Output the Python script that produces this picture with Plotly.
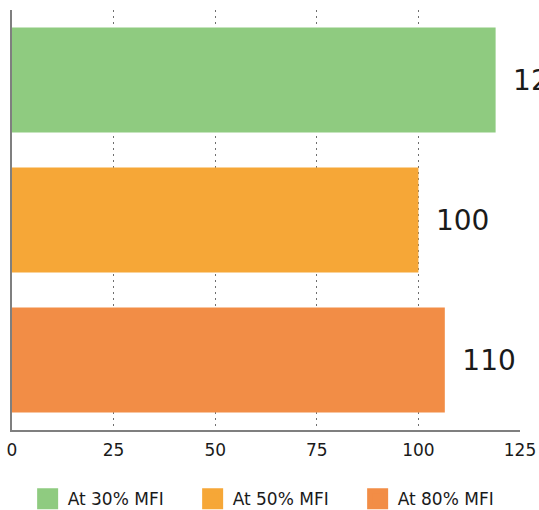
import plotly.graph_objects as go

categories = ["At 30% MFI", "At 50% MFI", "At 80% MFI"]
values = [119, 100, 106.5]
value_labels = ["120", "100", "110"]
colors = ["#8FCB80", "#F6A737", "#F28D46"]
x_ticks = [0, 25, 50, 75, 100, 125]

FONT = "DejaVu Sans"

fig = go.Figure()
for cat, v, lab, col in zip(categories, values, value_labels, colors):
    fig.add_trace(go.Bar(
        y=[cat], x=[v], orientation="h", name=cat, showlegend=False,
        marker=dict(color=col, line=dict(width=0)),
        text=["\u00a0\u2009" + lab], textposition="outside",
        textfont=dict(size=28, color="#1a1a1a", family=FONT),
        constraintext="none", cliponaxis=False,
    ))
# legend entries (square swatches)
for cat, col in zip(categories, colors):
    fig.add_trace(go.Scatter(
        x=[None], y=[None], mode="markers", name=cat,
        marker=dict(symbol="square", size=25, color=col, line=dict(color=col, width=5)),
    ))

fig.update_layout(
    width=539, height=510,
    margin=dict(l=12, r=19, t=10, b=80),
    plot_bgcolor="white", paper_bgcolor="white",
    barmode="relative", bargap=0.25,
    font=dict(family=FONT, color="#1a1a1a"),
    showlegend=True,
    legend=dict(orientation="h", x=0.518, xanchor="center",
                yref="container", y=0.021, yanchor="middle",
                font=dict(size=17, color="#1a1a1a", family=FONT),
                traceorder="normal", itemwidth=30,
                entrywidth=120, entrywidthmode="pixels"),
    xaxis=dict(range=[0, 125], tickvals=x_ticks, ticktext=[str(t) for t in x_ticks],
               showgrid=True, gridcolor="#6f6f6f", griddash="2px,4px", gridwidth=1,
               showline=True, linecolor="#7f7f7f", linewidth=2, automargin=False,
               zeroline=False, ticks="", ticklabelstandoff=4,
               tickfont=dict(size=17, color="#1a1a1a", family=FONT),
               fixedrange=True),
    yaxis=dict(categoryorder="array", categoryarray=categories, autorange="reversed",
               showticklabels=False, showgrid=False, showline=True, automargin=False,
               linecolor="#7f7f7f", linewidth=2, ticks="", zeroline=False,
               fixedrange=True),
)

fig.write_html("out.html", config={"displayModeBar": False},
               post_script="document.body.style.margin='0';")
